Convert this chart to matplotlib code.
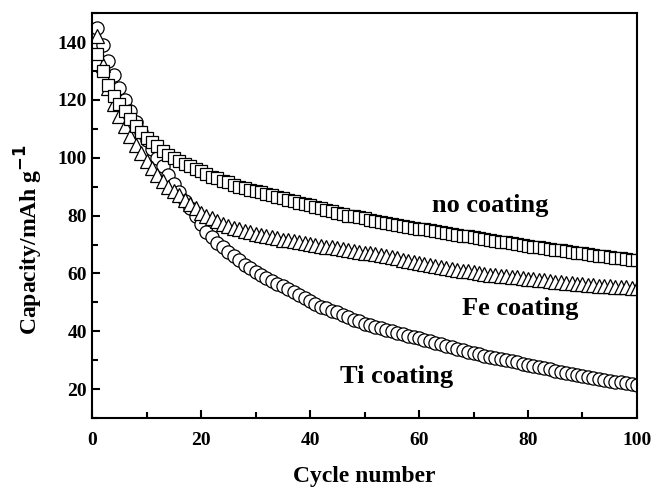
import matplotlib
matplotlib.use("Agg")
import matplotlib.pyplot as plt
from matplotlib.ticker import MultipleLocator

plt.rcParams["font.family"] = ["Liberation Serif", "DejaVu Serif"]
plt.rcParams["font.weight"] = "bold"

# cycle index
cycles = list(range(1, 101))

# discharge capacity, mAh/g
no_coating = [
    136, 130, 125, 121.5, 118.5, 116, 113.5, 111, 109, 107,
    105.5, 104, 102.5, 101, 100, 99, 98, 97, 96, 95.5,
    94.5, 93.5, 93, 92, 91.5, 90.5, 90, 89.5, 89, 88.5,
    88, 87.5, 87, 86.5, 86, 85.5, 85, 84.5, 84, 83.5,
    83, 82.5, 82, 81.5, 81, 80.5, 80, 79.8, 79.4, 79,
    78.6, 78.2, 77.8, 77.5, 77.2, 76.8, 76.5, 76.2, 75.8, 75.5,
    75.2, 74.9, 74.6, 74.3, 74, 73.7, 73.4, 73.1, 72.8, 72.5,
    72.2, 71.9, 71.6, 71.3, 71, 70.7, 70.4, 70.1, 69.8, 69.5,
    69.2, 69, 68.7, 68.5, 68.2, 68, 67.7, 67.5, 67.2, 67,
    66.7, 66.5, 66.2, 66, 65.7, 65.5, 65.2, 65, 64.8, 64.5,
]
fe_coating = [
    142, 132, 124, 118.5, 114.5, 111, 107.5, 104.5, 101.5, 99,
    96.5, 94, 92, 90, 88.5, 87, 85.5, 84, 82.5, 81,
    80, 79, 78, 77.2, 76.5, 75.8, 75.2, 74.7, 74.2, 73.7,
    73.3, 72.9, 72.5, 72.1, 71.7, 71.4, 71.1, 70.8, 70.5, 70.2,
    69.9, 69.6, 69.3, 69, 68.7, 68.4, 68.1, 67.8, 67.5, 67.2,
    66.9, 66.6, 66.3, 66, 65.6, 65.2, 64.8, 64.4, 64, 63.6,
    63.2, 62.8, 62.5, 62.2, 61.9, 61.6, 61.3, 61, 60.7, 60.4,
    60.1, 59.8, 59.6, 59.4, 59.2, 59, 58.8, 58.6, 58.4, 58.2,
    58, 57.8, 57.6, 57.4, 57.2, 57, 56.8, 56.6, 56.4, 56.2,
    56, 55.9, 55.8, 55.6, 55.5, 55.4, 55.3, 55.2, 55.1, 55,
]
ti_coating = [
    145, 139, 133.5, 128.5, 124, 120, 116, 112.5, 109, 106,
    103, 100, 97, 94, 91, 88, 85, 82.5, 80, 77,
    74.5, 72.5, 70.5, 69, 67.5, 66, 64.5, 63, 62, 60.5,
    59.5, 58.5, 57.5, 56.5, 55.5, 54.5, 53.5, 52.5, 51.5, 50.5,
    49.5, 48.5, 48, 47, 46.5, 45.5, 45, 44, 43.5, 42.5,
    42, 41.5, 41, 40.5, 40, 39.5, 39, 38.5, 38, 37.5,
    37, 36.5, 36, 35.5, 35, 34.5, 34, 33.5, 33, 32.5,
    32, 31.5, 31.2, 30.8, 30.4, 30, 29.6, 29.2, 28.8, 28.4,
    28, 27.6, 27.2, 26.8, 26.4, 26, 25.6, 25.2, 24.8, 24.5,
    24.2, 23.8, 23.5, 23.2, 22.9, 22.6, 22.3, 22, 21.8, 21.5,
]

fig = plt.figure(figsize=(6.54, 4.88), dpi=100)
ax = fig.add_axes([0.1407, 0.1434, 0.8333, 0.8296])

mk = dict(linestyle="none", markerfacecolor="white", markeredgecolor="black",
          markeredgewidth=0.9)
ax.plot(cycles, ti_coating, marker="o", markersize=9.5, **mk)
ax.plot(cycles, fe_coating, marker="^", markersize=9.5, **mk)
ax.plot(cycles, no_coating, marker="s", markersize=8.5, **mk)

ax.text(62.4, 83.5, "no coating", fontsize=19, fontweight="bold", va="center")
ax.text(67.9, 48, "Fe coating", fontsize=19, fontweight="bold", va="center")
ax.text(45.5, 24.5, "Ti coating", fontsize=19, fontweight="bold", va="center")

ax.set_xlim(0, 100)
ax.set_ylim(10, 150)
ax.xaxis.set_major_locator(MultipleLocator(20))
ax.xaxis.set_minor_locator(MultipleLocator(10))
ax.yaxis.set_major_locator(MultipleLocator(20))
ax.yaxis.set_minor_locator(MultipleLocator(10))
ax.set_yticks([20, 40, 60, 80, 100, 120, 140])
ax.tick_params(which="both", direction="in", top=False, right=False, width=1.5,
               labelsize=14)
ax.tick_params(which="major", length=6)
ax.tick_params(which="minor", length=4)
ax.tick_params(axis="x", pad=10)
for lab in ax.get_xticklabels() + ax.get_yticklabels():
    lab.set_fontweight("bold")
for s in ax.spines.values():
    s.set_linewidth(1.5)

ax.set_xlabel("Cycle number", fontsize=17, fontweight="bold", labelpad=12)
ax.set_ylabel("Capacity/mAh g$^{\\mathbf{-1}}$", fontsize=17, fontweight="bold")
ax.yaxis.set_label_coords(-0.086, 0.44)

fig.savefig("out.png", dpi=100)
